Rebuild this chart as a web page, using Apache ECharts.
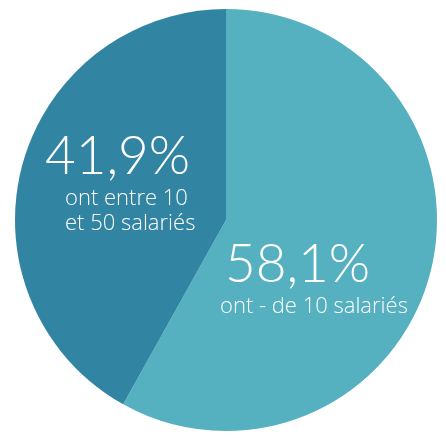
<!DOCTYPE html>
<html><head><meta charset="utf-8">
<script src="https://cdn.jsdelivr.net/npm/echarts@6/dist/echarts.min.js"></script>
<style>html,body{margin:0;padding:0;background:#fff}#c{width:446px;height:438px}</style>
</head><body><div id="c"></div>
<script>
const categories = ['ont - de 10 salariés', 'ont entre 10\net 50 salariés'];
const values = [58.1, 41.9];
const percentLabels = ['58,1%', '41,9%'];
const colors = ['#55b1c0', '#3284a3'];
const labelPos = [[220, 236, 0, 5], [45, 128, 20, 0]];

const chart = echarts.init(document.getElementById('c'), null, {renderer: 'canvas'});
chart.setOption({
  animation: false,
  series: [{
    type: 'pie',
    center: [226, 220],
    radius: [0, 211],
    startAngle: 90,
    clockwise: true,
    silent: true,
    data: categories.map((c, i) => ({
      name: c, value: values[i],
      itemStyle: {color: colors[i]},
      label: {
        formatter: () => '{a|' + percentLabels[i] + '}\n' + c.split('\n').map(s => '{b|' + s + '}').join('\n'),
        rich: {
          a: {fontFamily: 'Lato', fontWeight: 300, fontSize: 53, lineHeight: 58, color: '#fff', padding: [0, 0, 0, labelPos[i][3]]},
          b: {fontFamily: 'Open Sans', fontWeight: 300, fontSize: 22, lineHeight: 25, color: '#fff', padding: [0, 0, 0, labelPos[i][2]]}
        }
      }
    })),
    label: {show: true, position: 'inside', align: 'left', verticalAlign: 'top'},
    labelLine: {show: false},
    labelLayout: (p) => ({x: labelPos[p.dataIndex][0], y: labelPos[p.dataIndex][1], align: 'left', verticalAlign: 'top'})
  }]
});
</script></body></html>
